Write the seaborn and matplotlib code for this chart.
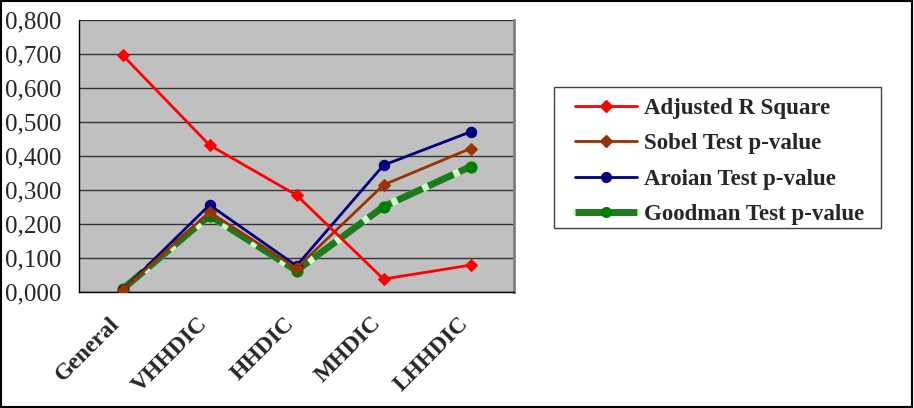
import matplotlib
matplotlib.use("Agg")
import matplotlib.pyplot as plt
import matplotlib.transforms as mtransforms
import seaborn as sns
import pandas as pd
from matplotlib.ticker import FixedLocator, FuncFormatter
from matplotlib.lines import Line2D

categories = ["General", "VHHDIC", "HHDIC", "MHDIC", "LHHDIC"]
adjusted_r_square = [0.697, 0.432, 0.285, 0.038, 0.079]
sobel_p = [0.005, 0.235, 0.070, 0.315, 0.422]
aroian_p = [0.005, 0.256, 0.077, 0.373, 0.471]
goodman_p = [0.008, 0.225, 0.063, 0.251, 0.369]
y_ticks = [0.0, 0.1, 0.2, 0.3, 0.4, 0.5, 0.6, 0.7, 0.8]

series_names = ["Adjusted R Square", "Sobel Test p-value",
                "Aroian Test p-value", "Goodman Test p-value"]
series_values = [adjusted_r_square, sobel_p, aroian_p, goodman_p]

rows = []
for name, vals in zip(series_names, series_values):
    for i, (c, v) in enumerate(zip(categories, vals)):
        rows.append({"pos": i, "category": c, "series": name, "value": v})
df = pd.DataFrame(rows)

sns.set_theme(style="white")
plt.rcParams["font.family"] = ["Liberation Serif", "DejaVu Serif"]

W, H = 914, 408
fig = plt.figure(figsize=(W / 100, H / 100), dpi=100)
ax = fig.add_axes([79 / W, 1 - 292 / H, (514 - 79) / W, (292 - 20) / H])
ax.set_facecolor("#c0c0c0")

# Goodman series: light green base with dark green dashes on top
g = df[df.series == "Goodman Test p-value"]
sns.lineplot(data=g, x="pos", y="value", ax=ax, color="#ccffcc", lw=5,
             legend=False, zorder=3)
sns.lineplot(data=g, x="pos", y="value", ax=ax, color="#1f7a1f", lw=5,
             legend=False, zorder=4, dashes=False, linestyle=(0, (4, 0.9)),
             marker="o", markersize=8, markerfacecolor="#008000",
             markeredgecolor="#008000")

styles = {
    "Adjusted R Square": dict(color="#ff0000", marker="D", markersize=6),
    "Sobel Test p-value": dict(color="#993300", marker="D", markersize=6),
    "Aroian Test p-value": dict(color="#000080", marker="o", markersize=7.5),
}
order_z = {"Aroian Test p-value": 5, "Sobel Test p-value": 6, "Adjusted R Square": 7}
for name, st in styles.items():
    d = df[df.series == name]
    sns.lineplot(data=d, x="pos", y="value", ax=ax, color=st["color"], lw=2,
                 marker=st["marker"], markersize=st["markersize"],
                 markerfacecolor=st["color"], markeredgecolor=st["color"],
                 legend=False, zorder=order_z[name])

ax.set_xlim(-0.5, 4.5)
ax.set_ylim(0, 0.8)
ax.set_yticks(y_ticks)
ax.yaxis.set_major_formatter(FuncFormatter(lambda v, p: f"{v:.3f}".replace(".", ",")))
ax.yaxis.grid(True, color="#333333", lw=1)
ax.set_axisbelow(True)

ax.set_xticks(range(len(categories)))
ax.set_xticklabels(categories, rotation=45, ha="right", va="top",
                   rotation_mode="anchor", fontsize=17, fontweight="bold")
ax.tick_params(axis="x", which="major", length=0, pad=15)
shift = mtransforms.ScaledTranslation(-13 / 100, 0, fig.dpi_scale_trans)
for lbl in ax.get_xticklabels():
    lbl.set_transform(lbl.get_transform() + shift)
ax.xaxis.set_minor_locator(FixedLocator([i - 0.5 for i in range(len(categories) + 1)]))
ax.tick_params(axis="x", which="minor", length=6, width=1, color="black", direction="out")
ax.tick_params(axis="y", length=6, width=1, color="black", direction="out", labelsize=18, pad=7)
ax.set_xlabel("")
ax.set_ylabel("")

for s in ["left", "bottom"]:
    ax.spines[s].set_color("black")
    ax.spines[s].set_linewidth(1)
ax.spines["top"].set_visible(False)
ax.spines["right"].set_color("#808080")
ax.spines["right"].set_linewidth(2)

handles = [
    Line2D([], [], color="#ff0000", lw=2, marker="D", markersize=6),
    Line2D([], [], color="#993300", lw=2, marker="D", markersize=6),
    Line2D([], [], color="#000080", lw=2, marker="o", markersize=7),
    (Line2D([], [], color="#ccffcc", lw=5),
     Line2D([], [], color="#1f7a1f", lw=5, linestyle=(0, (4, 0.9)),
            marker="o", markersize=7, markerfacecolor="#008000",
            markeredgecolor="#008000")),
]
leg = fig.legend(handles, series_names, loc="upper left",
                 bbox_to_anchor=(575 / W, 1 - 98 / H), frameon=False,
                 prop={"weight": "bold", "size": 16.5}, handlelength=2.7,
                 labelspacing=0.62, borderpad=0, handletextpad=0.3,
                 borderaxespad=0)

# legend frame
fig.patches.append(plt.Rectangle((554 / W, 1 - 228 / H), (881 - 554) / W, (228 - 87) / H,
                                 transform=fig.transFigure, fill=False,
                                 edgecolor="#404040", lw=1))

# figure border
fig.patches.append(plt.Rectangle((0.001, 0.002), 0.997, 0.996, transform=fig.transFigure,
                                 fill=False, edgecolor="black", lw=1.5))

fig.savefig("out.png", dpi=100)
